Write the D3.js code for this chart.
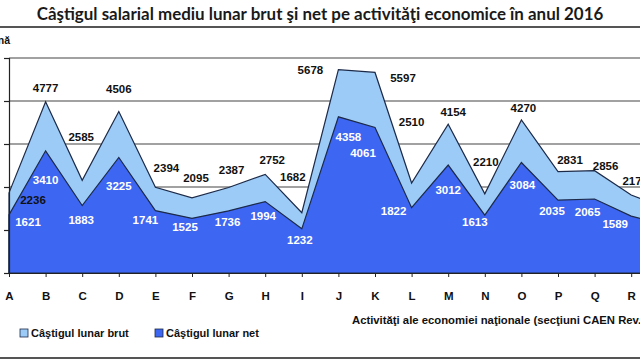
<!DOCTYPE html>
<html><head><meta charset="utf-8">
<script src="https://cdn.jsdelivr.net/npm/d3@7"></script>
<style>html,body{margin:0;padding:0;background:#fff;overflow:hidden}</style>
</head><body>
<svg id="c" width="640" height="360"></svg>
<script>
// ---- data ----
const categories = ["A","B","C","D","E","F","G","H","I","J","K","L","M","N","O","P","Q","R","S"];
const brut = [2236,4777,2585,4506,2394,2095,2387,2752,1682,5678,5597,2510,4154,2210,4270,2831,2856,2175,1800];
const net  = [1621,3410,1883,3225,1741,1525,1736,1994,1232,4358,4061,1822,3012,1613,3084,2035,2065,1589,1310];
const yTicks = [0,1200,2400,3600,4800,6000];
const titleText = "Câştigul salarial mediu lunar brut şi net pe activităţi economice în anul 2016";
const unitText = "lei/persoană";
const axisTitle = "Activităţi ale economiei naţionale (secţiuni CAEN Rev.2)";
const legendItems = ["Câştigul lunar brut","Câştigul lunar net"];

// ---- layout (label offsets relative to points, px) ----
const brutLabelDx = [24,0,-1,0,11,4,3,7,-9,-28,28,0,5,1,2,12,11,4,0];
const brutLabelDy = [7,-14,-43,-23,-19,-20,-17,-14,-36,0,6,-61,-12,-32,-12,-12,-5,-14,-8];
const netLabelDx  = [19,0,-1,0,-10,-7,-1,-2,-2,10,-12,-18,0,-10,1,-6,-7,-16,0];
const netLabelDy  = [7,29,14,29,9,9,11,14,11,20,25,3,25,7,22,11,13,8,10];

const svg = d3.select("#c");
const x = d3.scalePoint().domain(categories).range([9, 9 + 18*36.6]);
const y = d3.scaleLinear().domain([0,6000]).range([273,58]);
const LIGHT = "#9dcbf7", DARK = "#3d66f2", EDGE = "#1c2a48";

// title
const t = svg.append("text").attr("x",320).attr("y",20).attr("text-anchor","middle")
  .attr("font-family","Lato, 'Open Sans', sans-serif").attr("font-weight","bold")
  .attr("font-size",16).attr("fill","#1a1a1a").text(titleText);
const tw = t.node().getComputedTextLength();
t.attr("font-size", 16*567/tw);

// rules
svg.append("line").attr("x1",0).attr("x2",640).attr("y1",27).attr("y2",27).attr("stroke","#555").attr("stroke-width",2);
svg.append("line").attr("x1",0).attr("x2",640).attr("y1",358).attr("y2",358).attr("stroke","#555").attr("stroke-width",2);

// unit label (cropped on the left)
svg.append("text").attr("x",10).attr("y",44).attr("text-anchor","end")
  .attr("font-family","Liberation Sans, Arial, sans-serif").attr("font-weight","bold")
  .attr("font-size",10.5).attr("fill","#111").text(unitText);

// gridlines
svg.append("g").selectAll("line").data(yTicks.filter(d=>d>0)).join("line")
  .attr("x1",9).attr("x2",640).attr("y1",d=>y(d)).attr("y2",d=>y(d))
  .attr("stroke","#444").attr("stroke-width",1.2);

// areas
const areaB = d3.area().x((d,i)=>x(categories[i])).y0(y(0)).y1(d=>y(d));
svg.append("path").datum(brut).attr("d",areaB).attr("fill",LIGHT).attr("stroke",EDGE).attr("stroke-width",1.2);
svg.append("path").datum(net).attr("d",areaB).attr("fill",DARK).attr("stroke",EDGE).attr("stroke-width",1.2);

// axes
const yAxis = d3.axisLeft(y).tickValues(yTicks).tickSize(5).tickFormat("");
const ga = svg.append("g").attr("transform","translate(9,0)").call(yAxis);
ga.selectAll("path,line").attr("stroke","#222").attr("stroke-width",1.2);
const xAxis = d3.axisBottom(x).tickSize(4).tickSizeOuter(0).tickPadding(15);
const gx = svg.append("g").attr("transform","translate(0,273)").call(xAxis);
gx.select(".domain").attr("stroke","#222").attr("stroke-width",1.2);
gx.selectAll("line").attr("stroke","#222");
gx.selectAll("text").attr("font-family","Liberation Sans, Arial, sans-serif")
  .attr("font-weight","bold").attr("font-size",11.5).attr("fill","#111");

// data labels
const lblFont = "Liberation Sans, Arial, sans-serif";
svg.append("g").selectAll("text").data(brut).join("text")
  .attr("x",(d,i)=>x(categories[i])+brutLabelDx[i])
  .attr("y",(d,i)=>y(d)+brutLabelDy[i])
  .attr("dy","0.35em").attr("text-anchor","middle")
  .attr("font-family",lblFont).attr("font-weight","bold").attr("font-size",11.5)
  .attr("fill","#111").text(d=>d);
svg.append("g").selectAll("text").data(net).join("text")
  .attr("x",(d,i)=>x(categories[i])+netLabelDx[i])
  .attr("y",(d,i)=>y(d)+netLabelDy[i])
  .attr("dy","0.35em").attr("text-anchor","middle")
  .attr("font-family",lblFont).attr("font-weight","bold").attr("font-size",11.5)
  .attr("fill","#fff").text(d=>d);

// axis title
svg.append("text").attr("x",352).attr("y",324)
  .attr("font-family",lblFont).attr("font-weight","bold").attr("font-size",11.3)
  .attr("fill","#111").text(axisTitle);

// legend
const legX = [20,155], legC = [LIGHT, DARK];
const lg = svg.append("g").selectAll("g").data(legendItems).join("g")
  .attr("transform",(d,i)=>`translate(${legX[i]},329)`);
lg.append("rect").attr("width",8).attr("height",8).attr("fill",(d,i)=>legC[i]).attr("stroke",EDGE).attr("stroke-width",0.8);
lg.append("text").attr("x",11).attr("y",8).attr("font-family",lblFont).attr("font-weight","bold")
  .attr("font-size",11).attr("fill","#111").text(d=>d);
</script>
</body></html>
